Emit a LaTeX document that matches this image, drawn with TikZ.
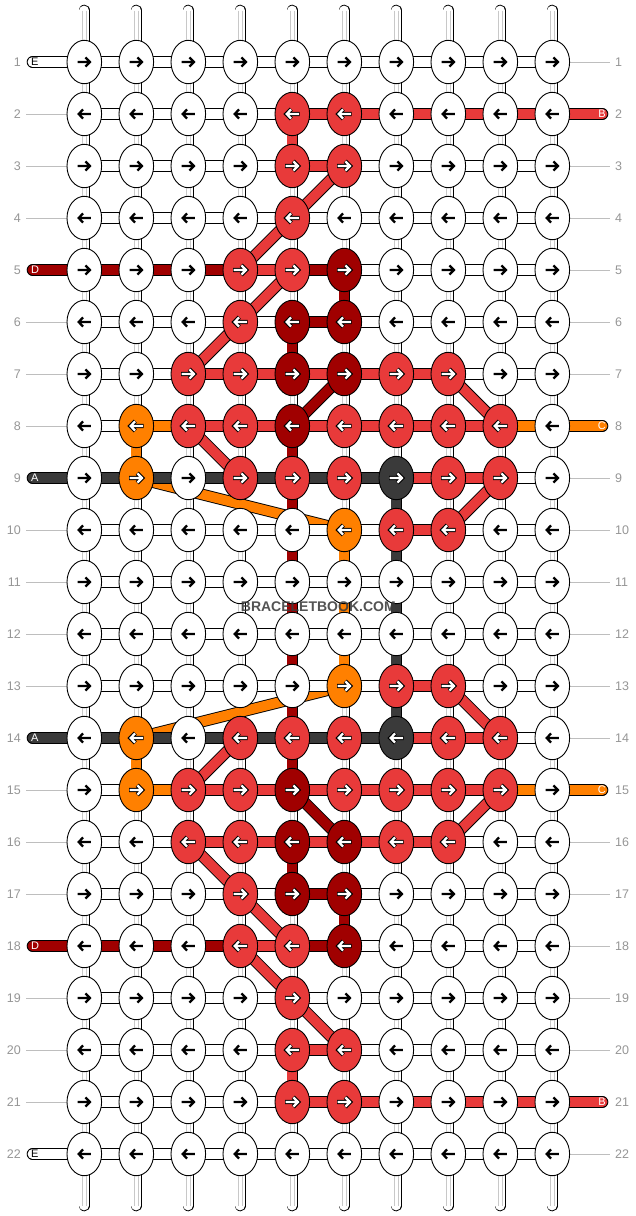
\documentclass[tikz,border=0pt]{standalone}
\usepackage{fontspec}
\setmainfont{Liberation Sans}
\usetikzlibrary{shapes.geometric}
\definecolor{cW}{RGB}{255,255,255}
\definecolor{cR}{RGB}{232,58,58}
\definecolor{cK}{RGB}{160,0,0}
\definecolor{cO}{RGB}{255,128,0}
\definecolor{cG}{RGB}{58,58,58}
\colorlet{aoW}{white}\colorlet{aoR}{black}\colorlet{aoK}{black}\colorlet{aoO}{black}\colorlet{aoG}{black}
\colorlet{aiW}{black}\colorlet{aiR}{white}\colorlet{aiK}{white}\colorlet{aiO}{white}\colorlet{aiG}{white}
\definecolor{labgray}{RGB}{150,150,150}
\definecolor{lingray}{RGB}{190,190,190}
\definecolor{strgray}{RGB}{200,200,200}
\definecolor{wmgray}{RGB}{60,60,60}
\tikzset{
  knot/.style={ellipse, draw=black, line width=0.9pt, minimum width=34.6pt, minimum height=43.4pt, inner sep=0pt},
  segout/.style={line width=11.6pt, draw=black},
  segin/.style={line width=9.8pt},
  rowlab/.style={text=labgray, font=\fontsize{12.5}{13}\selectfont, inner sep=0pt},
  taillab/.style={font=\fontsize{11}{12}\selectfont, inner sep=0pt},
  guide/.style={draw=lingray, line width=0.9pt},
}
\newcommand\strseg[3]{\draw[segout] (#1) -- (#2);\draw[segin, draw=#3] (#1) -- (#2);}
\begin{document}
\begin{tikzpicture}[x=1pt,y=-1pt]
\useasboundingbox (0,0) rectangle (636,1216);
\fill[white] (0,0) rectangle (636,1216);
% grid, labels
\foreach \r in {1,...,22}{
  \pgfmathsetmacro\yy{62+52*(\r-1)}
  \coordinate (tl-\r) at (32.5,\yy);
  \coordinate (tr-\r) at (602.5,\yy);
  \coordinate (gl-\r) at (26,\yy);
  \coordinate (gr-\r) at (610,\yy);
  \node[rowlab, anchor=east] (nl-\r) at (21,\yy) {\r};
  \node[rowlab, anchor=west] (nr-\r) at (615,\yy) {\r};
  \foreach \cc in {1,...,10}{\coordinate (p-\r-\cc) at ({84.3+52*(\cc-1)},\yy);}
}
% guide lines
\foreach \r in {2,3,4,6,7,8,10,11,12,13,15,16,17,19,20,21}{\draw[guide] (gl-\r) -- (p-\r-1);}
\foreach \r in {1,3,4,5,6,7,9,10,11,12,13,14,16,17,18,19,20,22}{\draw[guide] (p-\r-10) -- (gr-\r);}
% vertical strings
\foreach \cc in {1,...,10}{
  \coordinate (t-\cc) at ({84.3+52*(\cc-1)},10.5);
  \coordinate (b-\cc) at ({84.3+52*(\cc-1)},1205.5);
  \draw[segout, line cap=round] (t-\cc) -- (b-\cc);
  \draw[segin, draw=white, line cap=round] (t-\cc) -- (b-\cc);
  \draw[strgray, line width=0.7pt] ([xshift=-1.6pt]t-\cc) -- ([xshift=-1.6pt]b-\cc);
  \draw[strgray, line width=0.7pt] ([xshift=1.6pt]t-\cc) -- ([xshift=1.6pt]b-\cc);
}
% coloured vertical segments
\foreach \r/\cc/\col in {2/5/cR, 5/6/cK, 6/5/cK, 8/2/cO, 8/5/cK, 9/5/cK, 9/7/cG, 10/5/cK, 10/6/cO, 10/7/cG, 11/5/cK, 11/6/cO, 11/7/cG}{
  \pgfmathtruncatemacro\RN{\r+1}
  \pgfmathtruncatemacro\RA{22-\r}
  \pgfmathtruncatemacro\RB{23-\r}
  \strseg{p-\r-\cc}{p-\RN-\cc}{\col}
  \strseg{p-\RA-\cc}{p-\RB-\cc}{\col}
}
% diagonals
\foreach \ca/\ra/\cb/\rb/\col in {6/3/4/5/cR, 5/5/3/7/cR, 6/7/5/8/cK, 8/7/9/8/cR, 3/8/4/9/cR, 9/9/8/10/cR, 2/9/6/10/cO}{
  \pgfmathtruncatemacro\MA{23-\ra}
  \pgfmathtruncatemacro\MB{23-\rb}
  \strseg{p-\ra-\ca}{p-\rb-\cb}{\col}
  \strseg{p-\MA-\ca}{p-\MB-\cb}{\col}
}
% horizontal segments
\foreach \r/\segs in {1/{W,W,W,W,W,W,W,W,W}, 2/{W,W,W,W,R,R,R,R,R}, 3/{W,W,W,W,R,W,W,W,W}, 4/{W,W,W,W,W,W,W,W,W}, 5/{K,K,K,R,K,W,W,W,W}, 6/{W,W,W,W,K,W,W,W,W}, 7/{W,W,R,R,R,R,R,W,W}, 8/{W,O,R,R,R,R,R,R,O}, 9/{G,G,G,G,G,G,R,R,W}, 10/{W,W,W,W,W,W,R,W,W}, 11/{W,W,W,W,W,W,W,W,W}}{
  \pgfmathtruncatemacro\MR{23-\r}
  \foreach \s [count=\cc] in \segs {
    \pgfmathtruncatemacro\CN{\cc+1}
    \strseg{p-\r-\cc}{p-\r-\CN}{c\s}
    \strseg{p-\MR-\cc}{p-\MR-\CN}{c\s}
  }
}
% tails
\foreach \r/\col/\lab/\lc in {1/cW/E/black, 5/cK/D/white, 9/cG/A/white}{
  \pgfmathtruncatemacro\MR{23-\r}
  \foreach \q in {\r,\MR}{
    \draw[segout, line cap=round] (p-\q-1) -- (tl-\q);
    \draw[segin, draw=\col, line cap=round] (p-\q-1) -- (tl-\q);
    \node[taillab, text=\lc, anchor=west] (ll-\q) at ([xshift=-1.5pt]tl-\q) {\lab};
  }
}
\foreach \r/\col/\lab/\lc in {2/cR/B/white, 8/cO/C/white}{
  \pgfmathtruncatemacro\MR{23-\r}
  \foreach \q in {\r,\MR}{
    \draw[segout, line cap=round] (p-\q-10) -- (tr-\q);
    \draw[segin, draw=\col, line cap=round] (p-\q-10) -- (tr-\q);
    \node[taillab, text=\lc, anchor=east] (lr-\q) at ([xshift=3.5pt]tr-\q) {\lab};
  }
}
% knots and arrows
\foreach \r/\ks in {1/{W,W,W,W,W,W,W,W,W,W}, 2/{W,W,W,W,R,R,W,W,W,W}, 3/{W,W,W,W,R,R,W,W,W,W}, 4/{W,W,W,W,R,W,W,W,W,W}, 5/{W,W,W,R,R,K,W,W,W,W}, 6/{W,W,W,R,K,K,W,W,W,W}, 7/{W,W,R,R,K,K,R,R,W,W}, 8/{W,O,R,R,K,R,R,R,R,W}, 9/{W,O,W,R,R,R,G,R,R,W}, 10/{W,W,W,W,W,O,R,R,W,W}, 11/{W,W,W,W,W,W,W,W,W,W}}{
  \pgfmathtruncatemacro\MR{23-\r}
  \pgfmathtruncatemacro\DA{ifthenelse(mod(\r,2)==1,1,-1)}
  \pgfmathtruncatemacro\DB{-\DA}
  \foreach \k [count=\cc] in \ks {
    \foreach \q/\d in {\r/\DA,\MR/\DB}{
      \node[knot, fill=c\k] (k-\q-\cc) at (p-\q-\cc) {};
      \draw[draw=ao\k, line width=4.3pt, shift={(p-\q-\cc)}, xscale=\d] (-7.2,0) -- (5,0) (1.0,-4.9) -- (5.8,0) -- (1.0,4.9);
      \draw[draw=ai\k, line width=2.3pt, shift={(p-\q-\cc)}, xscale=\d] (-6.6,0) -- (5,0) (1.2,-4.6) -- (5.6,0) -- (1.2,4.6);
    }
  }
}
% watermark
\node[font=\bfseries\fontsize{14}{14}\selectfont, text=wmgray, text opacity=0.88, inner sep=0pt] (wm) at (318.3,607) {BRACELETBOOK.COM};
\end{tikzpicture}
\end{document}
